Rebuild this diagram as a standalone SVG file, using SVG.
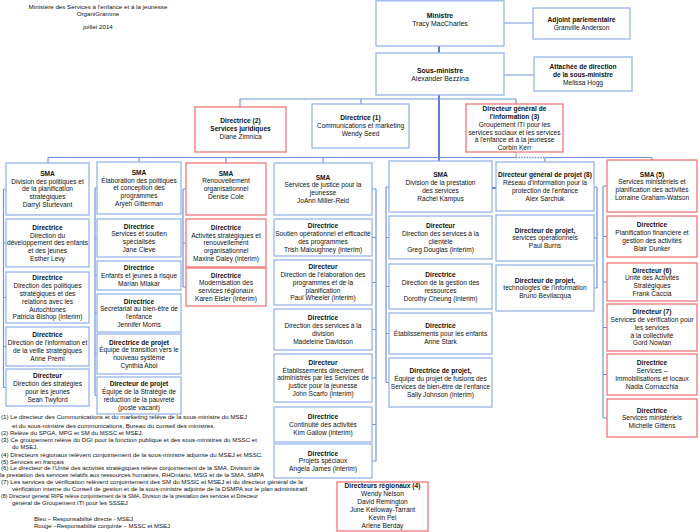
<svg xmlns="http://www.w3.org/2000/svg" width="700" height="532" viewBox="0 0 700 532">
<style>
text{font-family:"Liberation Sans",Arial,sans-serif;font-size:6.6px;fill:#111;text-anchor:middle}
.b{fill:#fff;stroke:#8fb0e6;stroke-width:1.2}
.r{fill:#fff;stroke:#ef6b6b;stroke-width:1.2}
.h{font-weight:bold}
.big{font-size:6.9px}
.n{font-size:6px;text-anchor:start}
.hd{font-size:6.2px}
.c{fill:none;stroke:#6f95d8;stroke-width:1.2}
.m{fill:none;stroke:#4a72c4;stroke-width:1.8}
.d{fill:none;stroke:#6f95d8;stroke-width:1.4;stroke-dasharray:1.5 1.2}
</style>
<rect width="700" height="532" fill="#fff"/>
<g id="header">
<text class="hd" x="98" y="8.5">Ministère des Services à l'enfance et à la jeunesse</text>
<text class="hd" x="98" y="16.2">OrganiGramme</text>
<text class="hd" x="98" y="29.2">juillet 2014</text>
</g>
<g id="connectors">
<path class="m" d="M439 46V53M439 95V161"/>
<path class="c" d="M504 23H533M504 75H534"/>
<path class="c" d="M240 99H516M240 99V107M361 99V104M516 99V104"/>
<path class="c" d="M48 157.5H516M545 157.5H652M48 157.5V163M139 157.5V162M226 157.5V163M323 157.5V163M545 157.5V162M652 157.5V160"/>
<path class="d" d="M516 152V157.5H545"/>
<path class="c" d="M3.5 189V387.5M3.5 189H6M3.5 243H6M3.5 297.5H6M3.5 346.5H6M3.5 387.5H6"/>
<path class="c" d="M95 188V395.5M95 188H97M95 238H97M95 275.5H97M95 313H97M95 354H97M95 395.5H97"/>
<path class="c" d="M183 189V287M183 189H186M183 243H186M183 287H186"/>
<path class="c" d="M376 189V461M372 189H376M372 237.5H376M372 282.5H376M372 329.5H376M372 378H376M372 424.5H376M372 461H376"/>
<path class="c" d="M386 187V382.5M386 187H389M386 237.5H389M386 286.5H389M386 333.5H389M386 382.5H389"/>
<path class="m" d="M492 188H496"/>
<path class="c" d="M597 187V288M594 187H597M594 238H597M594 288H597"/>
<path class="c" d="M603 186V418M603 186H607M603 236.5H607M603 282H607M603 327.5H607M603 374.5H607M603 418H607"/>
</g>
<g id="ministre">
<rect class="b" x="376" y="0.8" width="128" height="45.2"/>
<text class="h big" x="440" y="17.5">Ministre</text>
<text class="big" x="440" y="25.7">Tracy MacCharles</text>
</g>
<g id="adjoint">
<rect class="b" x="533" y="8" width="97" height="31"/>
<text class="h" x="581.5" y="22">Adjoint parlementaire</text>
<text x="581.5" y="29.8">Granville Anderson</text>
</g>
<g id="sous-ministre">
<rect class="b" x="376" y="53" width="128" height="42"/>
<text class="h big" x="440" y="72.7">Sous-ministre</text>
<text class="big" x="440" y="81">Alexander Bezzina</text>
</g>
<g id="attachee">
<rect class="b" x="534" y="57" width="98" height="34"/>
<text class="h" x="583" y="68.7">Attachée de direction</text>
<text class="h" x="583" y="76.5">de la sous-ministre</text>
<text x="583" y="84.7">Melissa Hogg</text>
</g>
<g id="dir2">
<rect class="r" x="195" y="107" width="91" height="45"/>
<text class="h" x="240.5" y="123">Directrice (2)</text>
<text class="h" x="240.5" y="131">Services juridiques</text>
<text x="240.5" y="139">Diane Zimnica</text>
</g>
<g id="dir1">
<rect class="b" x="312" y="104" width="97" height="44"/>
<text class="h" x="360.5" y="120.2">Directrice (1)</text>
<text x="360.5" y="128.3">Communications et marketing</text>
<text x="360.5" y="136.3">Wendy Seed</text>
</g>
<g id="dg-info">
<rect class="r" x="466" y="104" width="97" height="48"/>
<text class="h" x="514.5" y="110.7">Directeur général de</text>
<text class="h" x="514.5" y="118.6">l'information (3)</text>
<text x="514.5" y="126.6">Groupement ITI pour les</text>
<text x="514.5" y="134.5">services sociaux et les services</text>
<text x="514.5" y="142.4">à l'enfance et à la jeunesse</text>
<text x="514.5" y="150.3">Corbin Kerr</text>
</g>
<g id="c1-sma">
<rect class="b" x="6" y="163" width="83" height="52"/>
<text class="h" x="47.5" y="175.7">SMA</text>
<text x="47.5" y="183.5">Division des politiques et</text>
<text x="47.5" y="191.3">de la planification</text>
<text x="47.5" y="199.1">stratégiques</text>
<text x="47.5" y="206.9">Darryl Sturtevant</text>
</g>
<g id="c1-b2">
<rect class="b" x="6" y="219" width="83" height="48"/>
<text class="h" x="47.5" y="229.7">Directrice</text>
<text x="47.5" y="237.5">Direction du</text>
<text x="47.5" y="245.3">développement des enfants</text>
<text x="47.5" y="253.1">et des jeunes</text>
<text x="47.5" y="260.9">Esther Levy</text>
</g>
<g id="c1-b3">
<rect class="b" x="6" y="272" width="83" height="51"/>
<text class="h" x="47.5" y="280.3">Directrice</text>
<text x="47.5" y="288.1">Direction des politiques</text>
<text x="47.5" y="295.9">stratégiques et des</text>
<text x="47.5" y="303.7">relations avec les</text>
<text x="47.5" y="311.5">Autochtones</text>
<text x="47.5" y="319.3">Patricia Bishop (interim)</text>
</g>
<g id="c1-b4">
<rect class="b" x="6" y="327" width="83" height="39"/>
<text class="h" x="47.5" y="337.1">Directrice</text>
<text x="47.5" y="344.9">Direction de l'information et</text>
<text x="47.5" y="352.7">de la veille stratégiques</text>
<text x="47.5" y="360.5">Anne Premi</text>
</g>
<g id="c1-b5">
<rect class="b" x="6" y="369" width="83" height="37"/>
<text class="h" x="47.5" y="378.1">Directeur</text>
<text x="47.5" y="385.9">Direction des stratégies</text>
<text x="47.5" y="393.7">pour les jeunes</text>
<text x="47.5" y="401.5">Sean Twyford</text>
</g>
<g id="c2-sma">
<rect class="b" x="97" y="162" width="84" height="52"/>
<text class="h" x="139" y="174.7">SMA</text>
<text x="139" y="182.5">Élaboration des politiques</text>
<text x="139" y="190.3">et conception des</text>
<text x="139" y="198.1">programmes</text>
<text x="139" y="205.9">Aryeh Gitterman</text>
</g>
<g id="c2-b2">
<rect class="b" x="97" y="219" width="84" height="38"/>
<text class="h" x="139" y="228.6">Directrice</text>
<text x="139" y="236.4">Services et soutien</text>
<text x="139" y="244.2">spécialisés</text>
<text x="139" y="252">Jane Cleve</text>
</g>
<g id="c2-b3">
<rect class="b" x="97" y="261" width="84" height="29"/>
<text class="h" x="139" y="270">Directrice</text>
<text x="139" y="277.8">Enfants et jeunes à risque</text>
<text x="139" y="285.6">Marian Mlakar</text>
</g>
<g id="c2-b4">
<rect class="b" x="97" y="294" width="84" height="38"/>
<text class="h" x="139" y="303.6">Directrice</text>
<text x="139" y="311.4">Secrétariat au bien-être de</text>
<text x="139" y="319.2">l'enfance</text>
<text x="139" y="327">Jennifer Morris</text>
</g>
<g id="c2-b5">
<rect class="b" x="97" y="334" width="84" height="40"/>
<text class="h" x="139" y="344.6">Directrice de projet</text>
<text x="139" y="352.4">Équipe de transition vers le</text>
<text x="139" y="360.2">nouveau système</text>
<text x="139" y="368">Cynthia Abol</text>
</g>
<g id="c2-b6">
<rect class="b" x="97" y="377" width="84" height="37"/>
<text class="h" x="139" y="386.1">Directeur de projet</text>
<text x="139" y="393.9">Équipe de la Stratégie de</text>
<text x="139" y="401.7">réduction de la pauvreté</text>
<text x="139" y="409.5">(poste vacant)</text>
</g>
<g id="c3-sma">
<rect class="r" x="186" y="163" width="80" height="52"/>
<text class="h" x="226" y="175.6">SMA</text>
<text x="226" y="183.4">Renouvellement</text>
<text x="226" y="191.2">organisationnel</text>
<text x="226" y="199">Denise Cole</text>
</g>
<g id="c3-b2">
<rect class="r" x="186" y="219" width="80" height="48"/>
<text class="h" x="226" y="229.7">Directrice</text>
<text x="226" y="237.5">Activités stratégiques et</text>
<text x="226" y="245.3">renouvellement</text>
<text x="226" y="253.1">organisationnel</text>
<text x="226" y="260.9">Maxine Daley (interim)</text>
</g>
<g id="c3-b3">
<rect class="r" x="186" y="268" width="80" height="38"/>
<text class="h" x="226" y="277.6">Directrice</text>
<text x="226" y="285.4">Modernisation des</text>
<text x="226" y="293.2">services régionaux</text>
<text x="226" y="301">Karen Eisler (interim)</text>
</g>
<g id="c4-sma">
<rect class="b" x="274" y="163" width="98" height="52"/>
<text class="h" x="323" y="179.6">SMA</text>
<text x="323" y="187.4">Services de justice pour la</text>
<text x="323" y="195.2">jeunesse</text>
<text x="323" y="203">JoAnn Miller-Reid</text>
</g>
<g id="c4-b2">
<rect class="b" x="274" y="219" width="98" height="37"/>
<text class="h" x="323" y="228.1">Directrice</text>
<text x="323" y="235.9">Soutien opérationnel et efficacité</text>
<text x="323" y="243.7">des programmes</text>
<text x="323" y="251.5">Trish Maloughney (interim)</text>
</g>
<g id="c4-b3">
<rect class="b" x="274" y="260" width="98" height="45"/>
<text class="h" x="323" y="269.2">Directeur</text>
<text x="323" y="277">Direction de l'élaboration des</text>
<text x="323" y="284.8">programmes et de la</text>
<text x="323" y="292.6">planification</text>
<text x="323" y="300.4">Paul Wheeler (interim)</text>
</g>
<g id="c4-b4">
<rect class="b" x="274" y="309" width="98" height="41"/>
<text class="h" x="323" y="320.1">Directrice</text>
<text x="323" y="327.9">Direction des services à la</text>
<text x="323" y="335.7">division</text>
<text x="323" y="343.5">Madeleine Davidson</text>
</g>
<g id="c4-b5">
<rect class="b" x="274" y="354" width="98" height="48"/>
<text class="h" x="323" y="364.7">Directeur</text>
<text x="323" y="372.5">Établissements directement</text>
<text x="323" y="380.3">administrés par les Services de</text>
<text x="323" y="388.1">justice pour la jeunesse</text>
<text x="323" y="395.9">John Scarfo (interim)</text>
</g>
<g id="c4-b6">
<rect class="b" x="274" y="407" width="98" height="35"/>
<text class="h" x="323" y="419">Directrice</text>
<text x="323" y="426.8">Continuité des activités</text>
<text x="323" y="434.6">Kim Gallow (interim)</text>
</g>
<g id="c4-b7">
<rect class="b" x="274" y="444" width="98" height="34"/>
<text class="h" x="323" y="455.5">Directrice</text>
<text x="323" y="463.3">Projets spéciaux</text>
<text x="323" y="471.1">Angela James (interim)</text>
</g>
<g id="c5-sma">
<rect class="b" x="389" y="161" width="103" height="51"/>
<text class="h" x="440.5" y="177.1">SMA</text>
<text x="440.5" y="184.9">Division de la prestation</text>
<text x="440.5" y="192.7">des services</text>
<text x="440.5" y="200.5">Rachel Kampus</text>
</g>
<g id="c5-b2">
<rect class="b" x="389" y="216" width="103" height="43"/>
<text class="h" x="440.5" y="228.1">Directeur</text>
<text x="440.5" y="235.9">Direction des services à la</text>
<text x="440.5" y="243.7">clientèle</text>
<text x="440.5" y="251.5">Greg Douglas (interim)</text>
</g>
<g id="c5-b3">
<rect class="b" x="389" y="264" width="103" height="45"/>
<text class="h" x="440.5" y="277.1">Directrice</text>
<text x="440.5" y="284.9">Direction de la gestion des</text>
<text x="440.5" y="292.7">ressources</text>
<text x="440.5" y="300.5">Dorothy Cheung (interim)</text>
</g>
<g id="c5-b4">
<rect class="b" x="389" y="313" width="103" height="41"/>
<text class="h" x="440.5" y="328">Directrice</text>
<text x="440.5" y="335.8">Établissements pour les enfants</text>
<text x="440.5" y="343.6">Anne Stark</text>
</g>
<g id="c5-b5">
<rect class="b" x="389" y="358" width="103" height="49"/>
<text class="h" x="440.5" y="373.1">Directrice de projet,</text>
<text x="440.5" y="380.9">Équipe du projet de fusions des</text>
<text x="440.5" y="388.7">Services de bien-être de l'enfance</text>
<text x="440.5" y="396.5">Sally Johnson (interim)</text>
</g>
<g id="c6-dg">
<rect class="b" x="496" y="162" width="98" height="49"/>
<text class="h" x="545" y="177.1">Directeur général de projet (8)</text>
<text x="545" y="184.9">Réseau d'information pour la</text>
<text x="545" y="192.7">protection de l'enfance</text>
<text x="545" y="200.5">Alex Sarchuk</text>
</g>
<g id="c6-b2">
<rect class="b" x="496" y="215" width="98" height="46"/>
<text class="h" x="545" y="232.5">Directeur de projet,</text>
<text x="545" y="240.3">services opérationnels</text>
<text x="545" y="248.1">Paul Burns</text>
</g>
<g id="c6-b3">
<rect class="b" x="496" y="265" width="98" height="46"/>
<text class="h" x="545" y="282.5">Directeur de projet,</text>
<text x="545" y="290.3">technologies de l'information</text>
<text x="545" y="298.1">Bruno Bevilacqua</text>
</g>
<g id="c7-sma">
<rect class="r" x="607" y="160" width="90" height="52"/>
<text class="h" x="652" y="176.6">SMA (5)</text>
<text x="652" y="184.4">Services ministériels et</text>
<text x="652" y="192.2">planification des activités</text>
<text x="652" y="200">Lorraine Graham-Watson</text>
</g>
<g id="c7-b2">
<rect class="r" x="607" y="216" width="90" height="41"/>
<text class="h" x="652" y="227.1">Directrice</text>
<text x="652" y="234.9">Planification financière et</text>
<text x="652" y="242.7">gestion des activités</text>
<text x="652" y="250.5">Blair Dunker</text>
</g>
<g id="c7-b3">
<rect class="r" x="607" y="263" width="90" height="38"/>
<text class="h" x="652" y="272.6">Directeur (6)</text>
<text x="652" y="280.4">Unité des Activités</text>
<text x="652" y="288.2">Stratégiques</text>
<text x="652" y="296">Frank Caccia</text>
</g>
<g id="c7-b4">
<rect class="r" x="607" y="304" width="90" height="47"/>
<text class="h" x="652" y="314.2">Directeur (7)</text>
<text x="652" y="322">Services de vérification pour</text>
<text x="652" y="329.8">les services</text>
<text x="652" y="337.6">à la collectivité</text>
<text x="652" y="345.4">Gord Nowlan</text>
</g>
<g id="c7-b5">
<rect class="r" x="607" y="354" width="90" height="41"/>
<text class="h" x="652" y="365.1">Directrice</text>
<text x="652" y="372.9">Services –</text>
<text x="652" y="380.7">Immobilisations et locaux</text>
<text x="652" y="388.5">Nadia Cornacchia</text>
</g>
<g id="c7-b6">
<rect class="r" x="607" y="399" width="90" height="38"/>
<text class="h" x="652" y="412.5">Directrice</text>
<text x="652" y="420.3">Services ministériels</text>
<text x="652" y="428.1">Michelle Gittens</text>
</g>
<g id="dir-regionaux">
<rect class="r" x="337" y="482" width="91" height="49"/>
<text class="h" x="382.5" y="488">Directeurs régionaux (4)</text>
<text x="382.5" y="496">Wendy Nelson</text>
<text x="382.5" y="504">David Remington</text>
<text x="382.5" y="512">June Kelloway-Tarrant</text>
<text x="382.5" y="520">Kevin Pel</text>
<text x="382.5" y="528">Arlene Berday</text>
</g>
<g id="notes">
<text class="n" x="1" y="419.3" textLength="246" lengthAdjust="spacingAndGlyphs">(1) Le directeur des Communications et du marketing relève de la sous-ministre du MSEJ</text>
<text class="n" x="12" y="428.3" textLength="203" lengthAdjust="spacingAndGlyphs">et du  sous-ministre des communications, Bureau du conseil des ministres.</text>
<text class="n" x="1" y="435.2">(2) Relève du SPGA, MPG et SM du MSSC et MSEJ.</text>
<text class="n" x="1" y="441.9" textLength="256" lengthAdjust="spacingAndGlyphs">(3) Ce groupement relève du DGI pour la fonction publique et des sous-ministres du MSSC et</text>
<text class="n" x="12" y="448.5">du MSEJ.</text>
<text class="n" x="1" y="457.3" textLength="262" lengthAdjust="spacingAndGlyphs">(4) Directeurs régionaux relèvent conjointement de la sous-ministre adjointe du MSEJ et MSSC.</text>
<text class="n" x="1" y="463.8">(5) Services en français</text>
<text class="n" x="1" y="470.4" textLength="259" lengthAdjust="spacingAndGlyphs">(6) Le directeur de l'Unité des activités stratégiques relève conjointement de la SMA, Division de</text>
<text class="n" x="0" y="477.3" textLength="264" lengthAdjust="spacingAndGlyphs">la prestation des services relatifs aux ressources humaines, RHOntario, MSG et de la SMA, SMPA</text>
<text class="n" x="1" y="484.3" textLength="302" lengthAdjust="spacingAndGlyphs">(7) Les services de vérification relèvent conjointement des SM du MSSC et MSEJ et du directeur général de la</text>
<text class="n" x="12" y="491" textLength="297" lengthAdjust="spacingAndGlyphs">vérification interne du Conseil de gestion et de la sous-ministre adjointe de la DSMPA sur le plan administratif.</text>
<text class="n" x="1" y="497.8" textLength="257" lengthAdjust="spacingAndGlyphs">(8) Directeur general RIPE relève conjointement de la SMA, Division de la prestation des services et Directeur</text>
<text class="n" x="12" y="504.5">général de Groupement ITI pour les SSSEJ</text>
<text class="n" x="34" y="521.3">Bleu – Responsabilité directe - MSEJ</text>
<text class="n" x="34" y="528.3">Rouge –Responsabilité conjointe – MSSC et MSEJ</text>
</g>
</svg>
